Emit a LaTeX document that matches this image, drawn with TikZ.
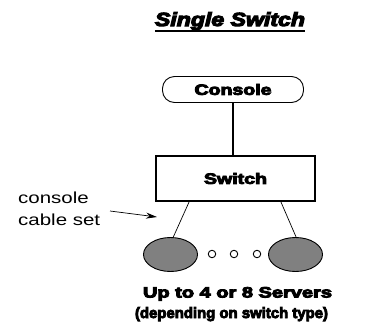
\documentclass[tikz,border=0pt]{standalone}
\usepackage{fontspec}
\usepackage{graphicx}
\setmainfont{Liberation Sans}
\newfontfamily\heavyf{Liberation Sans}[FakeBold=5.5]
\newfontfamily\lightf{Liberation Sans}[FakeStretch=1.28]
\usetikzlibrary{shapes.geometric,arrows.meta}
\definecolor{servergray}{RGB}{128,128,128}
\newcommand\fitw[2]{\resizebox{#1}{\height}{#2}}
\begin{document}
\begin{tikzpicture}[x=1pt,y=-1pt,
  heavytext/.style={font=\heavyf\bfseries\fontsize{15}{17}\selectfont, inner sep=0pt},
  titletext/.style={font=\heavyf\bfseries\itshape\fontsize{19}{21}\selectfont, inner sep=0pt},
  lighttext/.style={font=\lightf\fontsize{16}{22.5}\selectfont, inner sep=0pt, align=left},
  consolebox/.style={draw, line width=0.9pt, rounded corners=12pt, minimum width=141pt, minimum height=26pt, inner sep=0pt, heavytext},
  switchbox/.style={draw, line width=1.8pt, minimum width=159pt, minimum height=45pt, inner sep=0pt, heavytext},
  server/.style={ellipse, draw, fill=servergray, line width=0.9pt, minimum width=54pt, minimum height=34pt, inner sep=0pt},
  dotnode/.style={circle, draw, line width=0.9pt, minimum size=7.5pt, inner sep=0pt},
  cable/.style={line width=0.7pt},
  trunk/.style={line width=1.3pt},
  pointer/.style={line width=0.7pt, -{Stealth[length=11pt,width=6pt]}}
]
\useasboundingbox (0,0) rectangle (373,325);
\node[titletext, anchor=base] (title) at (230,26) {\fitw{150pt}{Single Switch}};
\draw[line width=2pt] ([yshift=-4.5pt]title.base west) -- ([yshift=-4.5pt]title.base east);

\node[consolebox] (console) at (233,89.5) {\fitw{77pt}{Console}\hspace{19pt}};
\node[switchbox] (switch) at (235.5,178.5) {\fitw{63pt}{Switch}};
\draw[trunk] (console.south) -- (console.south |- switch.north);

\node[server] (s1) at (170.5,254.5) {};
\node[server] (s2) at (295.5,254.5) {};
\node[dotnode] (d1) at (212,254) {};
\node[dotnode] (d2) at (234,254) {};
\node[dotnode] (d3) at (257,254) {};
\draw[cable] ([xshift=34pt]switch.south west) -- (s1.81);
\draw[cable] ([xshift=-35pt]switch.south east) -- (s2.88);

\node[lighttext, anchor=base west] (cablelabel) at (18,225.7) {console\\cable set};
\coordinate (arrowtail) at (110,211);
\coordinate (arrowtip) at (157,217);
\draw[pointer] (arrowtail) -- (arrowtip);

\node[heavytext, anchor=base] (count) at (237.5,297.5) {\fitw{189pt}{Up to 4 or 8 Servers}};
\node[heavytext, anchor=base] (note) at (231.5,318) {\fitw{193pt}{(depending on switch type)}};
\end{tikzpicture}
\end{document}
